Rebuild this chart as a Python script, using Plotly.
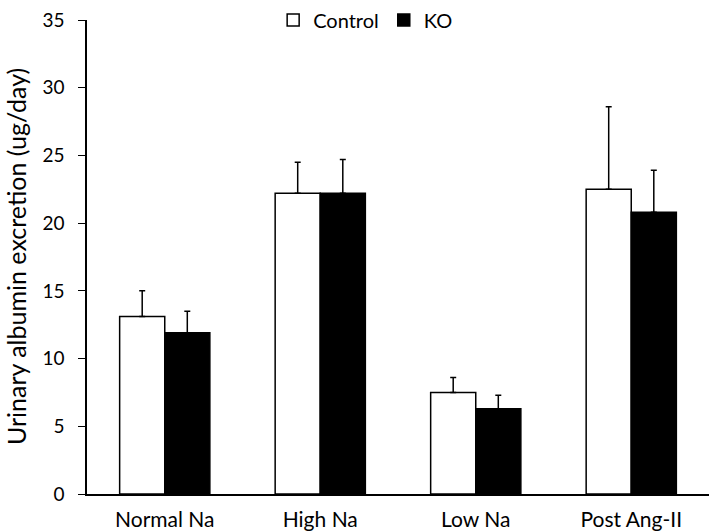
import plotly.graph_objects as go

categories = ["Normal Na", "High Na", "Low Na", "Post Ang-II"]
control_vals = [13.1, 22.2, 7.5, 22.5]
control_err = [1.9, 2.3, 1.1, 6.1]
ko_vals = [11.9, 22.2, 6.3, 20.8]
ko_err = [1.6, 2.5, 1.0, 3.1]
y_title = "Urinary albumin excretion (ug/day)"

FONT = "Lato, 'Open Sans', sans-serif"

fig = go.Figure()
fig.add_trace(go.Bar(
    name="Control", x=categories, y=control_vals,
    marker=dict(color="white", line=dict(color="black", width=1.5)),
    error_y=dict(type="data", array=control_err, symmetric=False,
                 arrayminus=[0] * 4, color="black", thickness=1.5, width=3),
))
fig.add_trace(go.Bar(
    name="KO", x=categories, y=ko_vals,
    marker=dict(color="black", line=dict(color="black", width=1.5)),
    error_y=dict(type="data", array=ko_err, symmetric=False,
                 arrayminus=[0] * 4, color="black", thickness=1.5, width=3),
))

fig.add_annotation(text=y_title, xref="paper", yref="paper", x=-0.114, y=0.5,
                   xanchor="center", yanchor="middle", textangle=-90,
                   showarrow=False, font=dict(size=25, family=FONT, color="black"))

fig.update_layout(
    width=709, height=532,
    margin=dict(l=87, r=0, t=17, b=38),
    paper_bgcolor="white", plot_bgcolor="white",
    barmode="group", bargap=0.42, bargroupgap=0,
    font=dict(family=FONT, size=19, color="black"),
    showlegend=True,
    legend=dict(orientation="h", x=0.448, xanchor="center",
                y=1.0, yanchor="middle",
                font=dict(size=20), itemwidth=30, bgcolor="rgba(0,0,0,0)"),
    xaxis=dict(showline=True, linecolor="black", linewidth=1.5, ticks="",
               showgrid=False, tickfont=dict(size=21), automargin=False,
               ticklabelstandoff=6),
    yaxis=dict(range=[0, 35], dtick=5, showline=True, linecolor="black",
               linewidth=1.5, ticks="outside", ticklen=7, tickcolor="black",
               showgrid=False, zeroline=False, tickfont=dict(size=19),
               automargin=False, ticklabelstandoff=10),
)

fig.write_html("out.html", config={"displayModeBar": False},
               post_script="document.body.style.margin='0';")
